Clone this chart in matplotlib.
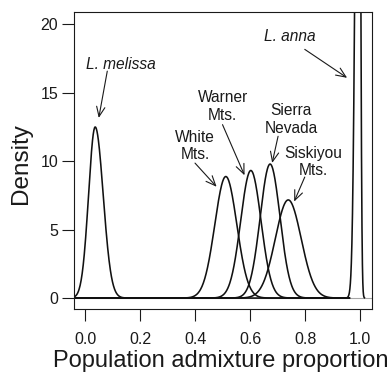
import numpy as np
import matplotlib
matplotlib.use("Agg")
import matplotlib.pyplot as plt

plt.rcParams["font.family"] = ["Liberation Sans", "DejaVu Sans"]

# density curves: mode, peak height, left/right spread
populations = ["L. melissa", "White Mts.", "Warner Mts.", "Sierra Nevada",
               "Siskiyou Mts.", "L. anna"]
modes = [0.036, 0.511, 0.602, 0.672, 0.738, 0.995]
peaks = [12.5, 8.88, 9.32, 9.79, 7.17, 60.0]
sd_left = [0.024, 0.040, 0.037, 0.036, 0.047, 0.011]
sd_right = [0.029, 0.040, 0.037, 0.036, 0.047, 0.005]
x_from = [-0.04, -0.04, -0.04, -0.04, -0.04, 0.90]
x_to = [0.96, 0.96, 0.96, 0.96, 0.96, 1.015]

# labels: text, text centre, arrow tail, arrow head (data units)
labels = ["L. melissa", "White\nMts.", "Warner\nMts.", "Sierra\nNevada",
          "Siskiyou\nMts.", "L. anna"]
label_xy = [(0.129, 17.07), (0.399, 11.11), (0.500, 14.0), (0.748, 13.04),
            (0.829, 9.95), (0.745, 19.14)]
arrow_tail = [(0.080, 16.58), (0.399, 9.86), (0.499, 12.67), (0.701, 11.82),
              (0.798, 8.84), (0.798, 18.17)]
arrow_head = [(0.049, 13.16), (0.4775, 8.13), (0.579, 8.97), (0.6795, 9.87),
              (0.7595, 7.05), (0.952, 16.09)]
italic = [True, False, False, False, False, True]

xticks = [0.0, 0.2, 0.4, 0.6, 0.8, 1.0]
yticks = [0, 5, 10, 15, 20]


def split_normal(x, m, h, sl, sr):
    s = np.where(x < m, sl, sr)
    return h * np.exp(-0.5 * ((x - m) / s) ** 2)


fig = plt.figure(figsize=(3.92, 3.74), dpi=100)
ax = fig.add_axes([74 / 392, 1 - 309 / 374, 298 / 392, 297 / 374])

ax.axhline(0, color="0.65", lw=0.8, zorder=1)
for i in range(len(populations)):
    x = np.linspace(x_from[i], x_to[i], 800)
    y = split_normal(x, modes[i], peaks[i], sd_left[i], sd_right[i])
    ax.plot(x, y, color="#111111", lw=1.15, zorder=2)

for i, lab in enumerate(labels):
    ax.text(*label_xy[i], lab, ha="center", va="center", fontsize=11.2,
            style="italic" if italic[i] else "normal", linespacing=1.2,
            color="#1a1a1a")
    ax.annotate("", xy=arrow_head[i], xytext=arrow_tail[i],
                arrowprops=dict(arrowstyle="->,head_length=0.7,head_width=0.3",
                                color="#1a1a1a", lw=0.8, shrinkA=0, shrinkB=0,
                                mutation_scale=10))

ax.set_xlim(-0.041, 1.0425)
ax.set_ylim(-0.8, 20.9)
ax.set_xticks(xticks)
ax.set_xticklabels([f"{t:.1f}" for t in xticks])
ax.set_yticks(yticks)
ax.tick_params(direction="out", length=8.5, width=0.8, labelsize=11.5,
               colors="#1a1a1a")
ax.tick_params(axis="x", pad=8)
ax.tick_params(axis="y", pad=3)
for sp in ax.spines.values():
    sp.set_linewidth(0.8)
    sp.set_color("#1a1a1a")

ax.set_xlabel("Population admixture proportion", fontsize=17, color="#1a1a1a")
ax.set_ylabel("Density", fontsize=17.5, color="#1a1a1a")
ax.xaxis.set_label_coords(0.494, -0.137)
ax.yaxis.set_label_coords(-0.14, 0.49)

fig.savefig("out.png", dpi=100)
